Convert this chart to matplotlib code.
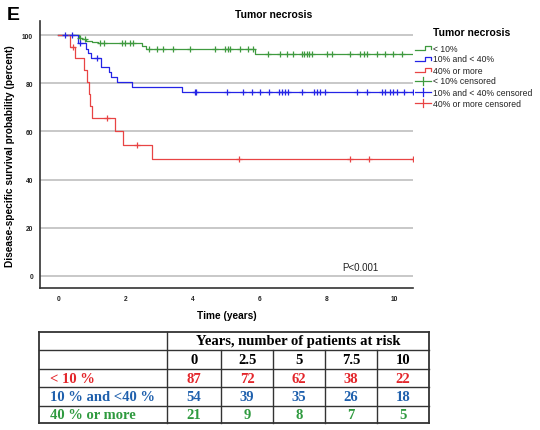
import numpy as np
import matplotlib
matplotlib.use("Agg")
import matplotlib.pyplot as plt
from matplotlib.lines import Line2D

# ---------------- data ----------------
green_drop_t = [0.62, 0.72, 0.83, 1.00, 1.20, 2.50, 2.62, 5.86]
green_level = [99.0, 98.3, 97.7, 97.2, 96.9, 95.5, 94.2, 92.3]
green_cens = [0.66, 0.80, 1.25, 1.37, 1.89, 1.99, 2.14, 2.24, 2.71, 2.94, 3.13, 3.43,
              3.93, 4.67, 4.97, 5.05, 5.12, 5.42, 5.66, 5.81, 6.26, 6.61, 6.81, 7.00,
              7.27, 7.33, 7.40, 7.47, 7.55, 8.00, 8.15, 8.69, 8.99, 9.09, 9.19, 9.49,
              9.73, 9.98, 10.23]

blue_drop_t = [0.58, 0.83, 0.90, 0.97, 1.27, 1.52, 1.57, 1.75, 2.19, 3.70]
blue_level = [96.7, 94.4, 92.6, 90.6, 86.7, 84.7, 82.6, 80.5, 78.4, 76.3]
blue_cens = [0.21, 0.41, 0.64, 1.15, 4.08, 4.10, 5.02, 5.49, 5.76, 6.01, 6.29, 6.56,
             6.66, 6.76, 6.85, 7.25, 7.60, 7.70, 7.80, 7.95, 8.89, 9.19, 9.63, 9.73,
             9.88, 9.98, 10.08, 10.28, 10.57]

red_drop_t = [0.36, 0.49, 0.78, 0.86, 0.92, 0.96, 1.00, 1.70, 1.94, 2.80]
red_level = [95.3, 90.6, 85.6, 80.5, 75.4, 70.5, 65.5, 60.1, 54.5, 48.6]
red_cens = [0.45, 1.45, 2.34, 5.37, 8.69, 9.26, 10.57]

t_end = 10.57

legend_labels = ["< 10%", "10% and < 40%", "40% or more",
                 "< 10% censored", "10% and < 40% censored", "40% or more censored"]

table_header = "Years, number of patients at risk"
table_years = ["0", "2.5", "5", "7.5", "10"]
table_rows = ["< 10 %", "10 % and <40 %", "40 % or more"]
table_vals = [[87, 72, 62, 38, 22],
              [54, 39, 35, 26, 18],
              [21, 9, 8, 7, 5]]

# ---------------- style ----------------
W, H = 540, 431
c_green = "#3f9a3f"
c_blue = "#2424e6"
c_red = "#e84444"
tab_colors = ["#e3262b", "#1f60ad", "#2f9a3f"]
sans = ["Liberation Sans", "DejaVu Sans"]
serif = ["Liberation Serif", "DejaVu Serif"]

fig = plt.figure(figsize=(W / 100, H / 100), dpi=100)


def fx(x):
    return x / W


def fy(y):
    return 1 - y / H


ax = fig.add_axes([fx(40), fy(289.3), fx(413.3) - fx(40), fy(22) - fy(289.3)])
ax.set_xlim(-0.54, 10.57)
ax.set_ylim(-5.3, 106)

for v in range(0, 101, 20):
    ax.axhline(v, color="#c4c4c4", lw=1.3, zorder=0)


def surv_at(t, drops, levels):
    val = 100.0
    for dt, lv in zip(drops, levels):
        if t >= dt:
            val = lv
    return val


for drops, levels, cens, col in [(green_drop_t, green_level, green_cens, c_green),
                                 (blue_drop_t, blue_level, blue_cens, c_blue),
                                 (red_drop_t, red_level, red_cens, c_red)]:
    ts = [0] + list(drops) + [t_end]
    vs = [100] + list(levels) + [levels[-1]]
    ax.step(ts, vs, where="post", color=col, lw=0.9, zorder=3)
    cy = [surv_at(t, drops, levels) for t in cens]
    ax.plot(cens, cy, ls="none", marker="+", ms=5, mew=0.9, color=col, zorder=4)

for s in ["top", "right"]:
    ax.spines[s].set_visible(False)
for s in ["left", "bottom"]:
    ax.spines[s].set_color("#333333")
    ax.spines[s].set_linewidth(1.2)
ax.set_xticks(range(0, 11, 2))
ax.set_yticks(range(0, 101, 20))
ax.tick_params(length=0, labelsize=4.8, colors="#222222", pad=5)
for lab in ax.get_xticklabels() + ax.get_yticklabels():
    lab.set_fontweight("bold")
    lab.set_family(sans)

ax.text(9.0, 3.4, "P<0.001", fontsize=7, family=sans, ha="center", va="center",
        color="#222222")

# axis labels
fig.text(fx(226.5), fy(316), "Time (years)", fontsize=7.3, fontweight="bold",
         family=sans, ha="center", va="center")
fig.text(fx(10), fy(156.5), "Disease-specific survival probability (percent)",
         fontsize=7.3, fontweight="bold", family=sans, rotation=90,
         ha="center", va="center")
fig.text(fx(274), fy(15.5), "Tumor necrosis", fontsize=7.5, fontweight="bold",
         family=sans, ha="center", va="center")
fig.text(fx(7), fy(16), "E", fontsize=14, fontweight="bold", family=sans,
         ha="left", va="center")

# legend
fig.text(fx(433), fy(32.7), "Tumor necrosis", fontsize=7.5, fontweight="bold",
         family=sans, ha="left", va="center")
leg_y = [49.3, 60, 71, 81.7, 93.3, 104.3]
leg_cols = [c_green, c_blue, c_red, c_green, c_blue, c_red]
for i, (lab, yy, col) in enumerate(zip(legend_labels, leg_y, leg_cols)):
    if i < 3:
        xs = [415, 425, 425, 431, 431]
        ys = [yy + 2, yy + 2, yy - 2.5, yy - 2.5, yy + 0.5]
        fig.add_artist(Line2D([fx(x) for x in xs], [fy(y) for y in ys],
                              color=col, lw=0.9))
    else:
        fig.add_artist(Line2D([fx(415), fx(431)], [fy(yy), fy(yy)], color=col, lw=0.9))
        fig.add_artist(Line2D([fx(423), fx(423)], [fy(yy - 4), fy(yy + 4)],
                              color=col, lw=0.9))
    fig.text(fx(433), fy(yy), lab, fontsize=6.2, family=sans, ha="left",
             va="center", color="#222222")

# table
col_x = [39, 166.7, 221, 273.3, 325, 376.7, 429.3]
row_y = [332.7, 351.3, 370, 388.3, 406.7, 424.3]
lc = "#333333"


def hline(y, x0, x1, lw=1.0):
    fig.add_artist(Line2D([fx(x0), fx(x1)], [fy(y), fy(y)], color=lc, lw=lw))


def vline(x, y0, y1, lw=1.0):
    fig.add_artist(Line2D([fx(x), fx(x)], [fy(y0), fy(y1)], color=lc, lw=lw))


for y in row_y:
    hline(y, col_x[0], col_x[-1], lw=1.3 if y in (row_y[0], row_y[-1]) else 1.0)
vline(col_x[0], row_y[0], row_y[-1], lw=1.3)
vline(col_x[-1], row_y[0], row_y[-1], lw=1.3)
vline(col_x[1], row_y[0], row_y[-1])
for x in col_x[2:-1]:
    vline(x, row_y[1], row_y[-1])

fs_t = 10.5
fig.text(fx((col_x[1] + col_x[-1]) / 2), fy((row_y[0] + row_y[1]) / 2), table_header,
         fontsize=fs_t, fontweight="bold", family=serif, ha="center", va="center")
for j, yr in enumerate(table_years):
    cx = (col_x[j + 1] + col_x[j + 2]) / 2
    fig.text(fx(cx), fy((row_y[1] + row_y[2]) / 2), yr, fontsize=fs_t,
             fontweight="bold", family=serif, ha="center", va="center")
for i, (rl, vals, col) in enumerate(zip(table_rows, table_vals, tab_colors)):
    cy = (row_y[i + 2] + row_y[i + 3]) / 2
    fig.text(fx(50), fy(cy), rl, fontsize=fs_t, fontweight="bold", family=serif,
             ha="left", va="center", color=col)
    for j, v in enumerate(vals):
        cx = (col_x[j + 1] + col_x[j + 2]) / 2
        fig.text(fx(cx), fy(cy), str(v), fontsize=fs_t, fontweight="bold",
                 family=serif, ha="center", va="center", color=col)

fig.savefig("out.png", dpi=100)
